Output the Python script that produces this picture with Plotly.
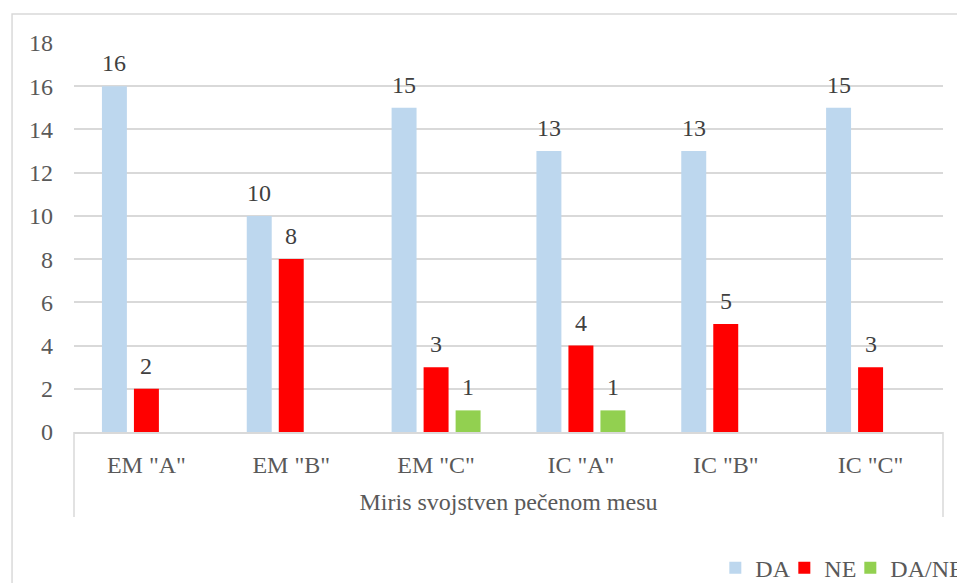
import plotly.graph_objects as go

# Ocjena mirisa po uzorku
group_label = "Miris svojstven pečenom mesu"
samples = ['EM "A"', 'EM "B"', 'EM "C"', 'IC "A"', 'IC "B"', 'IC "C"']
da = [16, 10, 15, 13, 13, 15]
ne = [2, 8, 3, 4, 5, 3]
da_ne = [None, None, 1, 1, None, None]

# name, values, colour, legend entry width (None = natural text width)
series = [("DA", da, "#bdd7ee", 24), ("NE", ne, "#ff0000", 21), ("DA/NE", da_ne, "#92d050", None)]

BARGAP = 0.337
BARGROUPGAP = 0.22
FONT = "Liberation Serif"
SIZE = 24
TEXT = "#595959"
GRID = "#d9d9d9"

fig = go.Figure()
for name, vals, color, lw in series:
    bar = dict(
        x=samples,
        y=vals,
        name=name,
        marker=dict(color=color, line=dict(width=0)),
        hoverinfo="skip",
    )
    if lw is not None:
        bar["legendwidth"] = lw
    fig.add_trace(go.Bar(**bar))

# value labels above each bar, placed on the category scale
n = len(series)
slot = (1 - BARGAP) / n
annotations = []
for k, (name, vals, color, _) in enumerate(series):
    for i, v in enumerate(vals):
        if v is None:
            continue
        annotations.append(dict(
            x=i + (k - (n - 1) / 2) * slot, y=v, xref="x", yref="y",
            text=str(v), showarrow=False, yanchor="bottom", yshift=8,
            font=dict(family=FONT, size=SIZE, color="#404040"),
        ))

# chart frame and the category-axis end dividers
divider_depth = -85 / 389
shapes = [
    dict(type="rect", xref="paper", yref="paper",
         x0=-0.0713, x1=1.2, y0=-0.6, y1=1.0746,
         line=dict(color=GRID, width=1.5), fillcolor="rgba(0,0,0,0)", layer="below"),
    dict(type="line", xref="paper", yref="paper", x0=0, x1=0, y0=0, y1=divider_depth,
         line=dict(color=GRID, width=1.5)),
    dict(type="line", xref="paper", yref="paper", x0=1, x1=1, y0=0, y1=divider_depth,
         line=dict(color=GRID, width=1.5)),
]

fig.update_layout(
    width=957, height=583,
    margin=dict(l=74, r=14, t=43, b=151, autoexpand=False),
    paper_bgcolor="white", plot_bgcolor="white",
    barmode="group", bargap=BARGAP, bargroupgap=BARGROUPGAP,
    font=dict(family=FONT, size=SIZE, color=TEXT),
    showlegend=True,
    legend=dict(orientation="h", x=0.738, xanchor="left", y=-0.35, yanchor="middle",
                font=dict(family=FONT, size=SIZE, color=TEXT), bgcolor="rgba(0,0,0,0)",
                itemwidth=30, traceorder="normal"),
    annotations=annotations,
    shapes=shapes,
)

fig.update_yaxes(
    range=[0, 18], dtick=2, showgrid=True, gridcolor=GRID, gridwidth=1.5,
    zeroline=False, showline=False, ticks="", ticklabelstandoff=20, automargin=False,
    tickfont=dict(family=FONT, size=SIZE, color=TEXT),
)
fig.update_xaxes(
    type="category", showline=True, linecolor=GRID, linewidth=1.5,
    ticks="", ticklabelstandoff=10, automargin=False,
    tickfont=dict(family=FONT, size=SIZE, color=TEXT),
    title=dict(text=group_label, standoff=17, font=dict(family=FONT, size=SIZE, color=TEXT)),
)

fig.write_html("out.html")
